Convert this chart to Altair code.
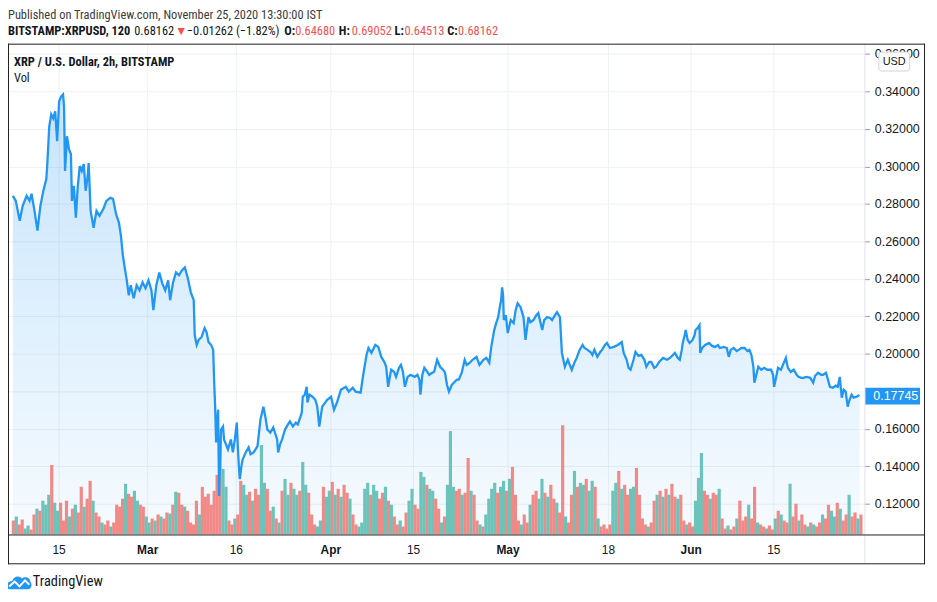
import altair as alt
import pandas as pd

# ---------------- data ----------------
# price samples: hours after 2020-02-07 00:00 and XRP/USD close
hours = [
    4, 16, 32, 44, 60, 72, 80, 92, 104, 116,
    128, 140, 144, 152, 160, 168, 176, 184, 192, 200,
    208, 212, 216, 224, 232, 240, 244, 252, 260, 268,
    276, 284, 292, 300, 308, 312, 320, 332, 344, 356,
    372, 384, 400, 411, 423, 435, 443, 451, 459, 467,
    475, 483, 495, 507, 519, 531, 543, 555, 567, 575,
    587, 599, 611, 623, 635, 643, 655, 667, 679, 691,
    703, 715, 727, 739, 743, 751, 759, 771, 783, 791,
    799, 810, 818, 822, 826, 830, 834, 838, 842, 846,
    850, 858, 862, 870, 878, 890, 898, 906, 914, 918,
    922, 926, 934, 938, 950, 962, 970, 982, 998, 1010,
    1022, 1030, 1038, 1050, 1062, 1078, 1082, 1090, 1098, 1110,
    1122, 1130, 1142, 1154, 1162, 1178, 1182, 1190, 1198, 1201,
    1209, 1221, 1233, 1241, 1249, 1261, 1273, 1281, 1297, 1309,
    1321, 1337, 1357, 1369, 1385, 1397, 1417, 1429, 1441, 1449,
    1461, 1477, 1489, 1501, 1513, 1521, 1529, 1541, 1553, 1561,
    1573, 1581, 1589, 1597, 1608, 1620, 1636, 1648, 1656, 1660,
    1668, 1676, 1688, 1696, 1708, 1716, 1728, 1740, 1752, 1760,
    1768, 1776, 1788, 1796, 1808, 1816, 1828, 1840, 1848, 1860,
    1872, 1888, 1900, 1916, 1928, 1940, 1948, 1960, 1968, 1976,
    1984, 1988, 1992, 1996, 1999, 2007, 2015, 2027, 2039, 2047,
    2055, 2067, 2079, 2087, 2099, 2107, 2119, 2131, 2139, 2155,
    2163, 2175, 2187, 2195, 2207, 2215, 2227, 2235, 2247, 2259,
    2267, 2275, 2287, 2295, 2307, 2319, 2327, 2339, 2351, 2359,
    2367, 2379, 2391, 2398, 2410, 2418, 2430, 2446, 2462, 2478,
    2486, 2498, 2506, 2514, 2526, 2534, 2546, 2558, 2570, 2578,
    2590, 2598, 2610, 2618, 2630, 2646, 2662, 2674, 2686, 2694,
    2706, 2714, 2722, 2726, 2734, 2738, 2746, 2754, 2766, 2774,
    2778, 2786, 2794, 2797, 2805, 2817, 2833, 2845, 2857, 2869,
    2877, 2893, 2905, 2913, 2921, 2933, 2945, 2953, 2965, 2977,
    2989, 2997, 3005, 3013, 3017, 3025, 3033, 3045, 3057, 3069,
    3085, 3093, 3097, 3105, 3113, 3125, 3133, 3145, 3153, 3165,
    3177, 3189, 3196, 3208, 3216, 3228, 3244, 3256, 3264, 3276,
    3288, 3296, 3308, 3316, 3324, 3336, 3348, 3356, 3364, 3372,
    3380, 3388, 3396, 3404, 3412, 3420, 3432, 3440, 3444,
]
prices = [
    0.2843, 0.2816, 0.2710, 0.2790, 0.2843, 0.2816, 0.2854, 0.2763, 0.2657, 0.2790,
    0.2870, 0.2933, 0.3013, 0.3214, 0.3278, 0.3257, 0.3294, 0.3135, 0.3347, 0.3373,
    0.3384, 0.3320, 0.2976, 0.3161, 0.3092, 0.3066, 0.2816, 0.2896, 0.2726, 0.2896,
    0.3002, 0.2976, 0.3013, 0.2870, 0.2949, 0.3018, 0.2763, 0.2673, 0.2763, 0.2737,
    0.2774, 0.2816, 0.2832, 0.2827, 0.2747, 0.2700, 0.2631, 0.2525, 0.2456, 0.2392,
    0.2312, 0.2366, 0.2297, 0.2366, 0.2339, 0.2381, 0.2350, 0.2392, 0.2339, 0.2233,
    0.2366, 0.2434, 0.2376, 0.2339, 0.2392, 0.2286, 0.2381, 0.2434, 0.2419, 0.2445,
    0.2461, 0.2403, 0.2328, 0.2286, 0.2100, 0.2047, 0.2074, 0.2090, 0.2137, 0.2116,
    0.2063, 0.2047, 0.2021, 0.1851, 0.1718, 0.1527, 0.1623, 0.1702, 0.1241, 0.1437,
    0.1596, 0.1612, 0.1543, 0.1517, 0.1490, 0.1543, 0.1474, 0.1543, 0.1633, 0.1506,
    0.1411, 0.1331, 0.1411, 0.1437, 0.1474, 0.1501, 0.1464, 0.1474, 0.1506, 0.1649,
    0.1718, 0.1665, 0.1596, 0.1580, 0.1607, 0.1543, 0.1474, 0.1517, 0.1543, 0.1596,
    0.1623, 0.1639, 0.1612, 0.1633, 0.1623, 0.1686, 0.1771, 0.1782, 0.1824, 0.1740,
    0.1782, 0.1771, 0.1755, 0.1718, 0.1612, 0.1718, 0.1740, 0.1755, 0.1771, 0.1702,
    0.1740, 0.1808, 0.1824, 0.1798, 0.1819, 0.1798, 0.1793, 0.1899, 0.1994, 0.2031,
    0.2005, 0.2047, 0.2037, 0.1984, 0.1957, 0.1931, 0.1824, 0.1915, 0.1904, 0.1877,
    0.1925, 0.1941, 0.1904, 0.1824, 0.1877, 0.1888, 0.1877, 0.1888, 0.1862, 0.1782,
    0.1888, 0.1925, 0.1904, 0.1888, 0.1899, 0.1904, 0.1968, 0.1931, 0.1915, 0.1899,
    0.1835, 0.1798, 0.1835, 0.1846, 0.1862, 0.1862, 0.1899, 0.1968, 0.1941, 0.1952,
    0.1968, 0.1984, 0.1941, 0.1968, 0.1978, 0.1952, 0.2037, 0.2127, 0.2164, 0.2196,
    0.2259, 0.2286, 0.2355, 0.2312, 0.2180, 0.2206, 0.2111, 0.2180, 0.2164, 0.2233,
    0.2270, 0.2249, 0.2196, 0.2074, 0.2196, 0.2169, 0.2180, 0.2206, 0.2217, 0.2127,
    0.2180, 0.2196, 0.2191, 0.2180, 0.2206, 0.2222, 0.2196, 0.2005, 0.1931, 0.1968,
    0.1941, 0.1915, 0.1957, 0.1978, 0.2021, 0.2047, 0.2031, 0.2021, 0.2010, 0.1994,
    0.2021, 0.1984, 0.2010, 0.2021, 0.2047, 0.2058, 0.2031, 0.2037, 0.2047, 0.2063,
    0.2005, 0.1968, 0.1925, 0.1915, 0.1968, 0.2010, 0.1989, 0.1994, 0.1968, 0.1931,
    0.1957, 0.1957, 0.1925, 0.1931, 0.1957, 0.1978, 0.1968, 0.1978, 0.1994, 0.2005,
    0.1978, 0.1968, 0.2021, 0.2058, 0.2100, 0.2127, 0.2074, 0.2058, 0.2074, 0.2100,
    0.2127, 0.2137, 0.2153, 0.2005, 0.2031, 0.2047, 0.2058, 0.2042, 0.2037, 0.2047,
    0.2031, 0.2037, 0.2031, 0.1984, 0.2021, 0.2031, 0.2015, 0.2021, 0.2031, 0.2031,
    0.2015, 0.2021, 0.1994, 0.1931, 0.1846, 0.1888, 0.1931, 0.1915, 0.1925, 0.1915,
    0.1915, 0.1888, 0.1824, 0.1872, 0.1925, 0.1915, 0.1941, 0.1978, 0.1925, 0.1904,
    0.1915, 0.1888, 0.1877, 0.1872, 0.1872, 0.1877, 0.1872, 0.1846, 0.1883, 0.1899,
    0.1888, 0.1888, 0.1899, 0.1862, 0.1824, 0.1819, 0.1830, 0.1824, 0.1877, 0.1766,
    0.1808, 0.1798, 0.1718, 0.1755, 0.1782, 0.1766, 0.1771, 0.1777, 0.17745,
]

# volume per 12-hour block (millions XRP) and candle direction (u = up, d = down)
volumes = [
    2.8, 3.6, 2.0, 3.0, 1.2, 1.8, 1.0, 4.0, 5.2, 4.8,
    6.8, 6.0, 8.0, 14.0, 6.4, 4.8, 6.4, 2.8, 6.8, 3.6,
    5.2, 6.0, 4.4, 9.6, 5.6, 7.2, 10.8, 6.8, 4.4, 3.6,
    2.4, 2.0, 2.8, 1.6, 2.4, 6.0, 5.6, 7.2, 10.2, 8.2,
    7.6, 8.8, 6.8, 6.0, 5.6, 3.6, 2.4, 3.2, 2.8, 4.0,
    3.6, 3.2, 4.4, 4.2, 6.0, 8.6, 8.4, 6.0, 5.6, 4.8,
    2.4, 2.0, 6.8, 4.0, 9.6, 7.6, 8.2, 6.0, 8.8, 12.0,
    19.0, 13.2, 9.6, 2.8, 2.0, 3.2, 4.0, 10.8, 10.0, 8.0,
    8.6, 6.8, 9.2, 8.0, 18.0, 10.4, 9.2, 4.8, 5.6, 3.2,
    2.4, 8.8, 11.2, 8.0, 10.4, 9.2, 8.0, 8.8, 14.6, 10.0,
    8.4, 4.0, 2.0, 1.6, 2.8, 9.6, 7.6, 8.8, 10.6, 8.0,
    9.2, 7.6, 10.0, 8.4, 7.2, 4.0, 2.0, 1.6, 2.4, 9.2,
    10.4, 8.0, 10.0, 8.8, 7.2, 8.4, 9.6, 6.8, 6.0, 3.6,
    2.0, 2.8, 1.6, 4.4, 6.8, 9.2, 6.0, 5.2, 12.6, 11.6,
    10.0, 9.2, 8.8, 7.2, 5.2, 2.4, 3.6, 10.0, 20.8, 9.6,
    8.8, 9.2, 8.0, 8.4, 15.4, 8.8, 8.0, 2.8, 2.0, 1.6,
    4.0, 7.2, 9.2, 10.4, 8.4, 9.6, 10.8, 8.8, 11.2, 13.6,
    8.0, 2.8, 2.0, 4.0, 2.4, 6.0, 8.0, 8.8, 7.2, 11.2,
    8.4, 7.6, 10.0, 7.2, 6.4, 4.4, 22.0, 3.6, 2.4, 8.0,
    12.8, 9.6, 10.4, 10.0, 11.2, 8.8, 10.8, 9.6, 3.2, 1.6,
    2.0, 1.2, 2.0, 8.8, 10.4, 12.8, 9.2, 10.0, 8.0, 9.2,
    9.6, 13.4, 8.0, 3.2, 2.0, 1.6, 2.4, 6.8, 8.0, 8.8,
    7.6, 9.2, 8.0, 10.2, 7.6, 7.2, 8.0, 2.8, 2.0, 2.4,
    1.6, 6.8, 11.4, 16.4, 8.8, 8.0, 7.2, 8.4, 8.0, 9.2,
    3.2, 1.2, 1.8, 1.0, 1.6, 3.2, 6.8, 2.8, 3.6, 6.0,
    3.2, 9.6, 2.4, 2.0, 1.6, 1.2, 1.8, 1.0, 3.2, 4.8,
    4.0, 2.8, 2.4, 10.2, 3.6, 6.2, 2.8, 4.0, 2.0, 1.6,
    2.4, 2.0, 1.6, 2.4, 4.0, 3.2, 6.0, 4.8, 3.6, 6.4,
    5.2, 2.8, 4.0, 8.0, 3.6, 4.4, 3.2, 4.0,
]
directions = (
    "dudduuddud" "uuuduudddu" "dudduddudd" "udduddddud" "duudduudud"
    "uddududdud" "dddudddddd" "duuddudduu" "dudduuddud" "uduuduuduu"
    "ddduuduudu" "duddudduuu" "uduuddudud" "dudduudduu" "duudduduuu"
    "ddudduddud" "uuuuduudud" "dduddudduu" "dudduddudd" "uduuduudud"
    "ddduududdu" "udddduddud" "ududduddud" "duuudduddu" "dduddudddu"
    "ddudduddud" "uddudduddu" "duddudduud" "udduddud"
)

x_tick_dates = ["2020-02-15", "2020-03-01", "2020-03-16", "2020-04-01", "2020-04-15",
                "2020-05-01", "2020-05-18", "2020-06-01", "2020-06-15"]
x_tick_labels = ["15", "Mar", "16", "Apr", "15", "May", "18", "Jun", "15"]
price_ticks = [0.12, 0.14, 0.16, 0.18, 0.20, 0.22, 0.24, 0.26, 0.28, 0.30, 0.32, 0.34, 0.36]
last_price = 0.17745
last_price_text = "0.17745"

header_line1 = "Published on TradingView.com, November 25, 2020 13:30:00 IST"
header_line2 = [
    ("BITSTAMP:XRPUSD, 120", "bold", "dark"),
    ("0.68162", "normal", "dark"),
    ("\u25bc", "normal", "red"),
    ("\u22120.01262 (\u22121.82%)", "normal", "dark"),
    ("O:", "bold", "dark"),
    ("0.64680", "normal", "red"),
    ("H:", "bold", "dark"),
    ("0.69052", "normal", "red"),
    ("L:", "bold", "dark"),
    ("0.64513", "normal", "red"),
    ("C:", "bold", "dark"),
    ("0.68162", "normal", "red"),
]
legend_title = "XRP / U.S. Dollar, 2h, BITSTAMP"
legend_vol = "Vol"
brand = "TradingView"

# ---------------- styling / layout ----------------
W, H = 862, 494
Y_MIN, Y_MAX = 0.1036, 0.3655
VOL_MAX = 98.8
BLUE = "#2196f3"
TEXT = "#131722"
RED = "#ef5350"
GRID = "#eef0f4"
FONT = "Liberation Sans, Arial, sans-serif"
NARROW = "Liberation Sans Narrow, Roboto Condensed, Roboto, sans-serif"
HEAD_SIZE = 12.5
header_x = [0, 127, 168, 180, 278, 289, 333, 346, 389, 399, 442, 453]

base = pd.Timestamp("2020-02-07 00:00:00")
n = min(len(hours), len(prices))
price_df = pd.DataFrame({
    "time": base + pd.to_timedelta(hours[:n], unit="h"),
    "price": prices[:n],
})
vol_hours = [6 + 12 * i for i in range(len(volumes))]
dirs = (directions + "u" * len(volumes))[: len(volumes)]
vol_df = pd.DataFrame({
    "time": base + pd.to_timedelta(vol_hours, unit="h"),
    "volume": volumes,
    "dir": ["up" if c == "u" else "down" for c in dirs],
})
tick_df = pd.DataFrame({"time": pd.to_datetime(x_tick_dates), "label": x_tick_labels})
tick_df["month"] = tick_df["time"].dt.day == 1

xs = alt.Scale(domain=[alt.DateTime(year=2020, month=2, date=7, hours=4, minutes=30),
                       alt.DateTime(year=2020, month=6, date=29, hours=12)])
ys = alt.Scale(domain=[Y_MIN, Y_MAX], nice=False, zero=False)
X = lambda: alt.X("time:T", scale=xs, axis=None)

y_axis = alt.Axis(
    orient="right", values=price_ticks,
    labelExpr="abs(datum.value - 0.18) < 1e-9 ? '' : format(datum.value, '.5f')",
    grid=True, gridColor=GRID, gridWidth=1, domain=False,
    ticks=True, tickSize=5, tickColor="#9598a1", labelPadding=5,
    labelFont=FONT, labelFontSize=12.5, labelColor=TEXT,
    labelFlush=False, labelOverlap=False, title=None, zindex=0,
)

x_grid = alt.Chart(tick_df).mark_rule(color=GRID, strokeWidth=1).encode(
    x=X(), y=alt.value(0), y2=alt.value(H))

area = alt.Chart(price_df).mark_area(
    color=alt.Gradient(
        gradient="linear",
        stops=[alt.GradientStop(color="rgba(33,150,243,0.25)", offset=0),
               alt.GradientStop(color="rgba(33,150,243,0.04)", offset=1)],
        x1=1, x2=1, y1=0, y2=1,
    ),
    clip=True,
).encode(
    x=X(),
    y=alt.Y("price:Q", scale=ys, axis=None),
    y2=alt.Y2(datum=Y_MIN),
)

vol = alt.Chart(vol_df).mark_bar(width=3.2, opacity=1, clip=True).encode(
    x=X(),
    y=alt.Y("volume:Q", scale=alt.Scale(domain=[0, VOL_MAX]), axis=None),
    color=alt.Color("dir:N", scale=alt.Scale(domain=["up", "down"], range=["#6cc3b9", "#f18a86"]), legend=None),
)

line = alt.Chart(price_df).mark_line(color=BLUE, strokeWidth=2.3, clip=True).encode(
    x=X(),
    y=alt.Y("price:Q", scale=ys, axis=y_axis),
)

x_labels_day = alt.Chart(tick_df[~tick_df["month"]]).mark_text(
    baseline="middle", align="center", font=FONT, fontSize=12, color=TEXT).encode(
    x=X(), y=alt.value(510), text="label:N")
x_labels_month = alt.Chart(tick_df[tick_df["month"]]).mark_text(
    baseline="middle", align="center", font=FONT, fontSize=12, fontWeight="bold", color=TEXT).encode(
    x=X(), y=alt.value(510), text="label:N")

one = alt.Data(values=[{}])
layers = [x_grid, area, vol, line, x_labels_day, x_labels_month]


def rule(color, **enc):
    return alt.Chart(one).mark_rule(color=color, strokeWidth=1).encode(
        **{k: alt.value(v) for k, v in enc.items()})


# chart frame
layers += [
    rule("#e0e3eb", x=862.5, y=0, y2=523),
    rule("#1e1e1e", x=0, x2=922, y=494.5),
    rule("#1e1e1e", x=0, x2=923, y=0.5),
    rule("#1e1e1e", x=0, x2=923, y=523.5),
    rule("#1e1e1e", x=0.5, y=0, y2=524),
    rule("#1e1e1e", x=922.5, y=0, y2=524),
]

# last price label
layers.append(
    alt.Chart(one).mark_rect(color=BLUE, opacity=1).encode(
        x=alt.value(863), x2=alt.value(918),
        y=alt.Y(datum=last_price + 0.0045, scale=ys, axis=None),
        y2=alt.Y2(datum=last_price - 0.0045))
)
layers.append(
    alt.Chart(one).mark_text(align="left", baseline="middle", color="white", font=FONT, fontSize=12.5).encode(
        x=alt.value(871), y=alt.Y(datum=last_price, scale=ys, axis=None), text=alt.value(last_price_text))
)

# USD badge
layers.append(
    alt.Chart(one).mark_rect(fill="white", stroke="#d1d4dc", strokeWidth=1, cornerRadius=3).encode(
        x=alt.value(876.5), x2=alt.value(907.5), y=alt.value(8.5), y2=alt.value(27.5))
)
layers.append(
    alt.Chart(one).mark_text(align="center", baseline="middle", color=TEXT, font=FONT, fontSize=11).encode(
        x=alt.value(892), y=alt.value(18.5), text=alt.value("USD"))
)

# header texts
layers.append(
    alt.Chart(one).mark_text(align="left", baseline="middle", color="#3c3c3c", font=NARROW, fontSize=HEAD_SIZE).encode(
        x=alt.value(0), y=alt.value(-29), text=alt.value(header_line1))
)
for (txt, weight, col), hx in zip(header_line2, header_x):
    layers.append(
        alt.Chart(one).mark_text(align="left", baseline="middle", font=NARROW, fontSize=HEAD_SIZE,
                                 fontWeight=weight, color=(RED if col == "red" else TEXT)).encode(
            x=alt.value(hx), y=alt.value(-13), text=alt.value(txt))
    )
layers.append(
    alt.Chart(one).mark_text(align="left", baseline="middle", font=NARROW, fontSize=HEAD_SIZE,
                             fontWeight="bold", color=TEXT).encode(
        x=alt.value(6), y=alt.value(18), text=alt.value(legend_title))
)
layers.append(
    alt.Chart(one).mark_text(align="left", baseline="middle", font=NARROW, fontSize=HEAD_SIZE, color=TEXT).encode(
        x=alt.value(6), y=alt.value(35), text=alt.value(legend_vol))
)

# brand footer
cloud = ("M-1,0.5 C-1.05,0.15 -0.85,-0.1 -0.55,-0.1 C-0.45,-0.5 0.05,-0.6 0.25,-0.3 "
         "C0.45,-0.5 0.95,-0.4 0.95,0.0 C1.1,0.1 1.05,0.55 0.8,0.58 L-0.8,0.58 Z")
zig = "M-0.8,0.35 L-0.35,-0.05 L0.05,0.35 L0.5,-0.15 L0.85,0.2"
layers.append(
    alt.Chart(one).mark_point(shape=cloud, filled=True, color="#2196f3", opacity=1, size=600).encode(
        x=alt.value(11), y=alt.value(542))
)
layers.append(
    alt.Chart(one).mark_point(shape=zig, filled=False, color="white", strokeWidth=2, opacity=1, size=600).encode(
        x=alt.value(11), y=alt.value(542))
)
layers.append(
    alt.Chart(one).mark_text(align="left", baseline="middle", font=NARROW, fontSize=14.5, color=TEXT).encode(
        x=alt.value(25), y=alt.value(542), text=alt.value(brand))
)

chart = alt.layer(*layers).resolve_scale(y="independent").properties(
    width=W, height=H,
    autosize=alt.AutoSizeParams(type="none"),
    padding={"left": 0, "top": 34, "right": 65, "bottom": 56},
    background="white",
).configure_view(stroke=None)

chart.save("out.html", embed_options={"renderer": "svg", "actions": False})
